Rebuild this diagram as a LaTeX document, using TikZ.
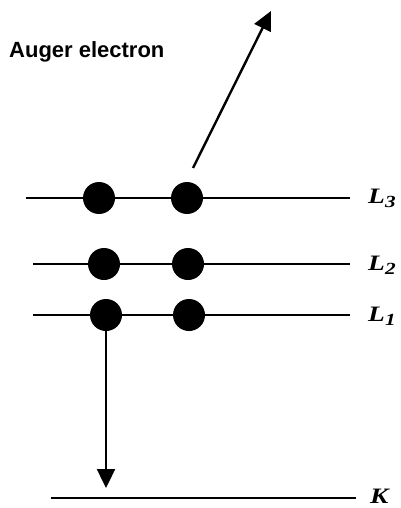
\documentclass[tikz,border=0pt]{standalone}
\usepackage{fontspec}
\setmainfont{Liberation Serif}
\newfontfamily\labelsans{Liberation Sans}
\usetikzlibrary{arrows.meta}
\newcommand{\lvtext}[2]{\scalebox{1.25}[1]{#1\raisebox{-4pt}{\fontsize{17}{18}\selectfont #2}}}
\begin{document}
\begin{tikzpicture}[x=1pt,y=-1pt,
  level/.style={line width=1.6pt},
  electron/.style={circle,fill=black,inner sep=0pt,minimum size=32pt},
  lvlabel/.style={anchor=west,inner sep=0pt,font=\fontsize{22}{24}\selectfont\bfseries\itshape},
  transition/.style={line width=2.4pt,-{Triangle[length=19pt,width=18pt]}}]
\useasboundingbox (0,0) rectangle (400,508);
% levels
\coordinate (L3a) at (26,198); \coordinate (L3b) at (350,198);
\coordinate (L2a) at (33,264); \coordinate (L2b) at (350,264);
\coordinate (L1a) at (33,315); \coordinate (L1b) at (350,315);
\coordinate (Ka) at (51,498); \coordinate (Kb) at (356,498);
\draw[level] (L3a) -- (L3b);
\draw[level] (L2a) -- (L2b);
\draw[level] (L1a) -- (L1b);
\draw[level] (Ka) -- (Kb);
% electrons
\node[electron] (e31) at (99,198) {};
\node[electron] (e32) at (187,198) {};
\node[electron] (e21) at (104,264) {};
\node[electron] (e22) at (188,264) {};
\node[electron] (e11) at (106,315) {};
\node[electron] (e12) at (189,315) {};
% labels
\node[lvlabel] (lL3) at (368,198) {\lvtext{L}{3}};
\node[lvlabel] (lL2) at (368,265) {\lvtext{L}{2}};
\node[lvlabel] (lL1) at (368,316) {\lvtext{L}{1}};
\node[lvlabel] (lK) at (370,498) {\lvtext{K}{}};
\node[anchor=west,inner sep=0pt,font=\labelsans\fontsize{22}{24}\selectfont\bfseries] (auger) at (9,52) {Auger electron};
% transitions
\coordinate (ktip) at (106,488);
\coordinate (atip) at (271,11);
\coordinate (astart) at (193,168);
\draw[transition] (e11.south) -- (ktip);
\draw[transition] (astart) -- (atip);
\end{tikzpicture}
\end{document}
